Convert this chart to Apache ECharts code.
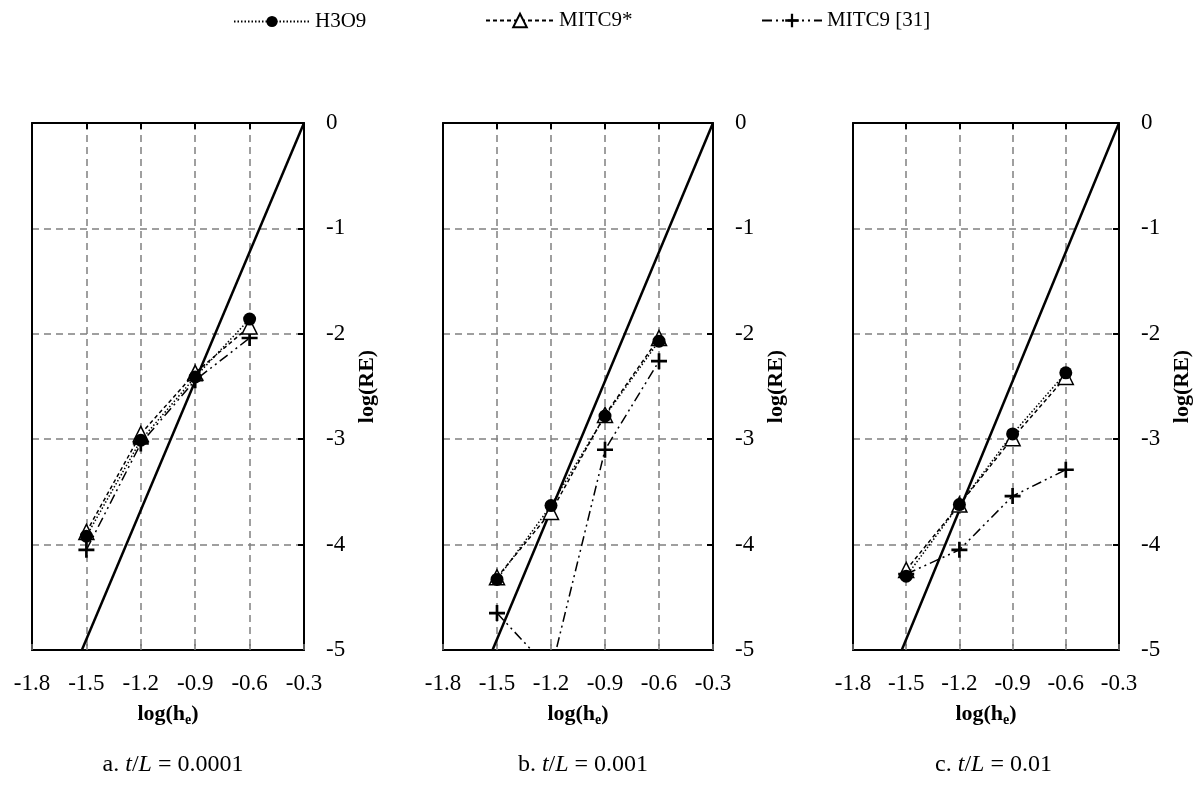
<!DOCTYPE html>
<html>
<head>
<meta charset="utf-8">
<script src="https://cdn.jsdelivr.net/npm/echarts@6/dist/echarts.min.js"></script>
<style>
  html, body { margin: 0; padding: 0; background: #fff; }
  #main { width: 1194px; height: 792px; }
</style>
</head>
<body>
<div id="main"></div>
<script>
// mesh sizes, log(h_e)
const hLog = [-1.5, -1.2, -0.9, -0.6];
const xTicks = ['-1.8', '-1.5', '-1.2', '-0.9', '-0.6', '-0.3'];

// log(RE)
const h3o9A = [-3.92, -3.01, -2.41, -1.86];
const mitcStarA = [-3.88, -2.95, -2.37, -1.93];
const mitc31A = [-4.05, -3.04, -2.44, -2.04];

const h3o9B = [-4.33, -3.63, -2.78, -2.07];
const mitcStarB = [-4.31, -3.69, -2.77, -2.04];
const mitc31B = [-4.65, -5.2, -3.1, -2.26];

const h3o9C = [-4.30, -3.62, -2.95, -2.37];
const mitcStarC = [-4.24, -3.62, -2.99, -2.41];
const mitc31C = [-4.28, -4.05, -3.54, -3.29];

// reference slope line
const refX = [-0.3, -1.525];
const refY = [0, -5];

const captions = ['0.0001', '0.001', '0.01'];
const seriesNames = ['H3O9', 'MITC9*', 'MITC9 [31]'];

const FONT = "'Liberation Serif', 'Times New Roman', serif";
const plusPath = 'path://M5,0 L7,0 L7,5 L12,5 L12,7 L7,7 L7,12 L5,12 L5,7 L0,7 L0,5 L5,5 Z';

const panels = [
  { left: 32, width: 272, data: [h3o9A, mitcStarA, mitc31A], tag: 'a' },
  { left: 443, width: 270, data: [h3o9B, mitcStarB, mitc31B], tag: 'b' },
  { left: 853, width: 271, data: [h3o9C, mitcStarC, mitc31C], tag: 'c' }
];

const pair = (xs, ys) => xs.map((x, i) => [x, ys[i]]);

const frame = { show: true, onZero: false, lineStyle: { color: '#000', width: 2 } };
const dashGrid = {
  show: true, showMinLine: false, showMaxLine: false,
  lineStyle: { color: '#808080', width: 1.5, type: [7, 5] }
};

const grids = [], xAxes = [], yAxes = [], series = [], titles = [];

panels.forEach((p, i) => {
  grids.push({ left: p.left, top: 123, width: p.width, height: 527 });
  // bottom axis with labels
  xAxes.push({
    gridIndex: i, type: 'value', min: -1.8, max: -0.3, interval: 0.3,
    axisLine: frame,
    axisTick: { show: true, inside: true, length: 6, lineStyle: { color: '#777', width: 1.5 } },
    axisLabel: {
      color: '#000', fontFamily: FONT, fontSize: 23, margin: 22,
      formatter: v => xTicks[Math.round((v + 1.8) / 0.3)]
    },
    splitLine: dashGrid,
    name: '{b|log(h}{s|e}{b|)}', nameLocation: 'middle', nameGap: 51,
    nameTextStyle: {
      rich: {
        b: { fontFamily: FONT, fontSize: 22, fontWeight: 'bold', color: '#000' },
        s: { fontFamily: FONT, fontSize: 14, fontWeight: 'bold', color: '#000', padding: [12, 0, 0, 0] }
      }
    }
  });
  // top axis only for the frame and inner ticks
  xAxes.push({
    gridIndex: i, type: 'value', position: 'top', min: -1.8, max: -0.3, interval: 0.3,
    axisLine: frame,
    axisTick: { show: true, inside: true, length: 6, lineStyle: { color: '#000', width: 2 } },
    axisLabel: { show: false }, splitLine: { show: false }
  });
  yAxes.push({
    gridIndex: i, type: 'value', position: 'right', min: -5, max: 0, interval: 1,
    axisLine: frame,
    axisTick: { show: true, inside: true, length: 6, lineStyle: { color: '#000', width: 2 } },
    axisLabel: { color: '#000', fontFamily: FONT, fontSize: 23, margin: 22 },
    splitLine: dashGrid,
    name: 'log(RE)', nameLocation: 'middle', nameGap: 52, nameRotate: 90,
    nameTextStyle: { fontFamily: FONT, fontSize: 22, fontWeight: 'bold', color: '#000' }
  });
  // left edge of the box
  yAxes.push({
    gridIndex: i, type: 'value', position: 'left', min: -5, max: 0, interval: 1,
    axisLine: frame, axisTick: { show: false }, axisLabel: { show: false }, splitLine: { show: false }
  });

  const xi = i * 2, yi = i * 2;
  series.push({
    name: 'ref', type: 'line', xAxisIndex: xi, yAxisIndex: yi,
    data: pair(refX, refY), symbol: 'none', silent: true,
    lineStyle: { color: '#000', width: 2.5, type: 'solid' }
  });
  series.push({
    name: seriesNames[2], type: 'line', xAxisIndex: xi, yAxisIndex: yi,
    data: pair(hLog, p.data[2]),
    symbol: plusPath, symbolSize: 16,
    itemStyle: { color: '#000' },
    lineStyle: { color: '#000', width: 1.5, type: [10, 4, 2, 4, 2, 4] }
  });
  series.push({
    name: seriesNames[1], type: 'line', xAxisIndex: xi, yAxisIndex: yi,
    data: pair(hLog, p.data[1]),
    symbol: 'triangle', symbolSize: 15,
    itemStyle: { color: '#fff', borderColor: '#000', borderWidth: 1.5 },
    lineStyle: { color: '#000', width: 1.5, type: [4, 3] }
  });
  series.push({
    name: seriesNames[0], type: 'line', xAxisIndex: xi, yAxisIndex: yi,
    data: pair(hLog, p.data[0]),
    symbol: 'circle', symbolSize: 13,
    itemStyle: { color: '#000' },
    lineStyle: { color: '#000', width: 1.5, type: [1.5, 2] }
  });

  titles.push({
    text: '{n|' + p.tag + '. }{i|t}{n|/}{i|L}{n| = ' + captions[i] + '}',
    left: p.left + p.width / 2, top: 748, textAlign: 'center',
    textStyle: {
      fontWeight: 'normal',
      rich: {
        n: { fontFamily: FONT, fontSize: 24, fontWeight: 'normal', color: '#000' },
        i: { fontFamily: FONT, fontSize: 24, fontWeight: 'normal', fontStyle: 'italic', color: '#000' }
      }
    }
  });
});

const legendText = { fontFamily: FONT, fontSize: 21, color: '#000' };

echarts.init(document.getElementById('main')).setOption({
  backgroundColor: '#fff',
  animation: false,
  title: titles,
  legend: [
    { data: [seriesNames[0]], left: 228, top: 6, itemWidth: 76, itemHeight: 14, itemGap: 8, textStyle: legendText },
    { data: [seriesNames[1]], left: 480, top: 5, itemWidth: 68, itemHeight: 17, itemGap: 8, textStyle: legendText },
    { data: [seriesNames[2]], left: 756, top: 5, itemWidth: 60, itemHeight: 17, itemGap: 8, textStyle: legendText }
  ],
  grid: grids,
  xAxis: xAxes,
  yAxis: yAxes,
  series: series
});
</script>
</body>
</html>
